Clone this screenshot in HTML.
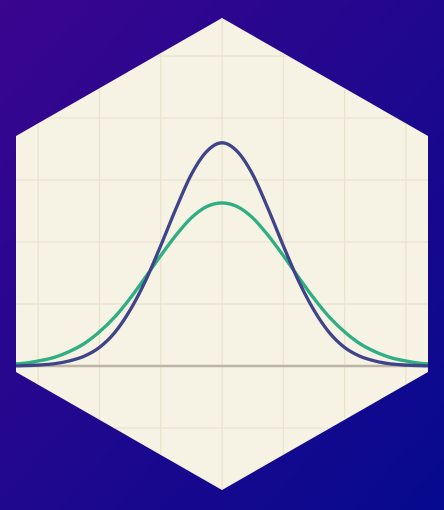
<!DOCTYPE html>
<html><head><meta charset="utf-8"><style>
html,body{margin:0;padding:0;width:444px;height:510px;overflow:hidden}
svg{display:block}
</style></head><body>
<svg id="chart" width="444" height="510" viewBox="0 0 444 510" xmlns="http://www.w3.org/2000/svg">
<defs>
<linearGradient id="bg" x1="0" y1="0" x2="1" y2="1">
<stop offset="0" stop-color="#3a058f"/><stop offset="1" stop-color="#060a8e"/>
</linearGradient>
<clipPath id="hex"><polygon points="222,18 428,136 428,372 222,490 16,372 16,136"/></clipPath>
</defs>
<rect width="444" height="510" fill="url(#bg)"/>
<g clip-path="url(#hex)">
<rect width="444" height="510" fill="#f6f3e5"/>
<g id="grid"></g>
<g id="series"></g>
</g>
</svg>
<script>
const xValues = [-3.5,-3.25,-3,-2.75,-2.5,-2.25,-2,-1.75,-1.5,-1.25,-1,-0.75,-0.5,-0.25,0,0.25,0.5,0.75,1,1.25,1.5,1.75,2,2.25,2.5,2.75,3,3.25,3.5];
const narrowSeries = [0,0.005,0.015,0.034,0.08,0.158,0.30,0.54,0.90,1.37,1.94,2.54,3.09,3.46,3.6,3.46,3.09,2.54,1.94,1.37,0.90,0.54,0.30,0.158,0.08,0.034,0.015,0.005,0];
const wideSeries = [0.03,0.042,0.08,0.135,0.23,0.36,0.55,0.79,1.09,1.43,1.78,2.11,2.39,2.57,2.63,2.57,2.39,2.11,1.78,1.43,1.09,0.79,0.55,0.36,0.23,0.135,0.08,0.042,0.03];
const gridX = [-3,-2,-1,0,1,2,3];
const gridY = [-1,0,1,2,3,4,5];

const NS = 'http://www.w3.org/2000/svg';
const xs = v => 222 + v * 61.3;
const ys = v => 366 - v * 62;
const grid = document.getElementById('grid');
gridX.forEach(g => {
  const l = document.createElementNS(NS,'line');
  
  
  l.setAttribute('x1',xs(g)); l.setAttribute('x2',xs(g));
  l.setAttribute('y1',0); l.setAttribute('y2',510);
  l.setAttribute('stroke','#ebe2cd'); l.setAttribute('stroke-width','1.3');
  grid.appendChild(l);
});
gridY.forEach(g => {
  const l = document.createElementNS(NS,'line');
  
  
  l.setAttribute('x1',0); l.setAttribute('x2',444);
  l.setAttribute('y1',ys(g)); l.setAttribute('y2',ys(g));
  l.setAttribute('stroke', g===0 ? '#bcb5a6' : '#ebe2cd');
  l.setAttribute('stroke-width', g===0 ? '2.5' : '1.3');
  grid.appendChild(l);
});
function pathFor(vals){
  const p = xValues.map((x,i)=>[xs(x), ys(vals[i])]);
  let d = 'M' + p[0][0] + ',' + p[0][1];
  for (let i=0;i<p.length-1;i++){
    const p0=p[Math.max(0,i-1)], p1=p[i], p2=p[i+1], p3=p[Math.min(p.length-1,i+2)];
    const c1x=p1[0]+(p2[0]-p0[0])/6, c1y=p1[1]+(p2[1]-p0[1])/6;
    const c2x=p2[0]-(p3[0]-p1[0])/6, c2y=p2[1]-(p3[1]-p1[1])/6;
    d += ` C${c1x},${c1y} ${c2x},${c2y} ${p2[0]},${p2[1]}`;
  }
  return d;
}
const series = document.getElementById('series');
[[wideSeries,'#2eae82','wide-distribution-line'],[narrowSeries,'#3f4489','narrow-distribution-line']].forEach(([vals,col,name])=>{
  const path = document.createElementNS(NS,'path');
  
  
  path.setAttribute('d', pathFor(vals));
  path.setAttribute('fill','none');
  path.setAttribute('stroke',col);
  path.setAttribute('stroke-width','3.3');
  path.setAttribute('stroke-linejoin','round');
  series.appendChild(path);
});
</script>
</body></html>
